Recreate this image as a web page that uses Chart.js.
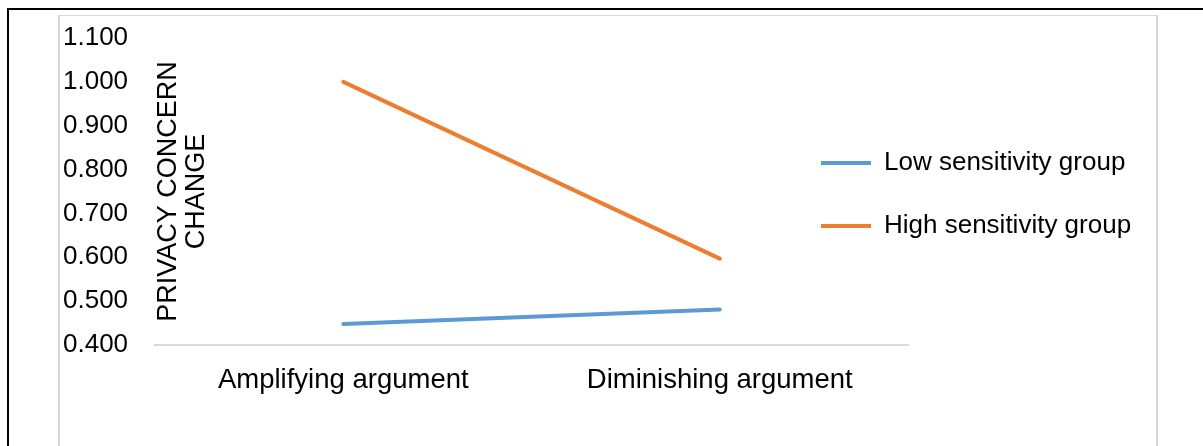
<!DOCTYPE html>
<html>
<head>
<meta charset="utf-8">
<script src="https://cdn.jsdelivr.net/npm/chart.js@4/dist/chart.umd.min.js"></script>
<style>
  html, body { margin: 0; padding: 0; background: #fff; }
  #page { position: relative; width: 1203px; height: 446px; overflow: hidden; }
  .rule { position: absolute; }
  #ruleTop { left: 7px; top: 8px; width: 1196px; height: 2px; background: #000; }
  #ruleLeft { left: 7px; top: 8px; width: 2px; height: 438px; background: #000; }
  #frame { left: 58px; top: 15px; width: 1100px; height: 440px;
           border: 2px solid #d9d9d9; border-top-width: 1.5px; box-sizing: border-box; }
  #wrap { position: absolute; left: 0; top: 0; width: 1203px; height: 446px; }
</style>
</head>
<body>
<div id="page">
  <div class="rule" id="ruleTop"></div>
  <div class="rule" id="ruleLeft"></div>
  <div class="rule" id="frame"></div>
  <div id="wrap"><canvas id="chart"></canvas></div>
</div>
<script>
// Argument type on the x axis
const categories = ['Amplifying argument', 'Diminishing argument'];

// Mean change in privacy concern per sensitivity group
const lowSensitivity = [0.448, 0.481];
const highSensitivity = [1.000, 0.597];

const seriesNames = ['Low sensitivity group', 'High sensitivity group'];
const axisTitle = ['PRIVACY CONCERN', 'CHANGE'];

// Value axis range and step
const yMin = 0.4;
const yMax = 1.1;
const yStep = 0.1;

const FONT = "'Liberation Sans', Arial, sans-serif";
Chart.defaults.font.family = FONT;
Chart.defaults.color = '#000';

// Places the legend so it sits just right of the plotted lines,
// and widens its clip box so the labels are not cut off
const legendPlacement = {
  id: 'legendPlacement',
  afterLayout(chart) {
    const lg = chart.legend;
    if (!lg) return;
    lg.left = chart.chartArea.right - 124;
    lg.right = chart.width;
    lg.top = 113;
    lg.bottom = lg.top + 260;
  }
};

new Chart(document.getElementById('chart'), {
  type: 'line',
  data: {
    labels: categories,
    datasets: [
      {
        label: seriesNames[0],
        data: lowSensitivity,
        borderColor: '#5B9BD5',
        backgroundColor: '#5B9BD5',
        borderWidth: 4,
        borderCapStyle: 'round',
        pointRadius: 0,
        tension: 0,
        yAxisID: 'y'
      },
      {
        label: seriesNames[1],
        data: highSensitivity,
        borderColor: '#ED7D31',
        backgroundColor: '#ED7D31',
        borderWidth: 4,
        borderCapStyle: 'round',
        pointRadius: 0,
        tension: 0,
        yAxisID: 'y'
      }
    ]
  },
  options: {
    responsive: true,
    maintainAspectRatio: false,
    animation: false,
    layout: { padding: { left: 63, top: 38, right: 195, bottom: 30 } },
    plugins: {
      tooltip: { enabled: false },
      legend: {
        position: 'right',
        align: 'start',
        maxWidth: 100,
        labels: {
          usePointStyle: true,
          pointStyle: 'line',
          pointStyleWidth: 50,
          padding: 37,
          color: '#000',
          font: { size: 26 }
        }
      }
    },
    scales: {
      x: {
        type: 'category',
        offset: true,
        grid: { display: false, drawTicks: false },
        border: { display: true, color: '#d9d9d9', width: 2 },
        ticks: { padding: 19, minRotation: 0, maxRotation: 0, color: '#000', font: { size: 27.5 } },
        afterFit: (scale) => { scale.paddingLeft = 0; scale.paddingRight = 0; }
      },
      y: {
        type: 'linear',
        position: 'left',
        weight: 1,
        min: yMin,
        max: yMax,
        grid: { display: false, drawTicks: false },
        border: { display: false },
        ticks: {
          stepSize: yStep,
          crossAlign: 'far',
          padding: 13.5,
          color: '#000',
          font: { size: 26 },
          callback: (v) => Number(v).toFixed(3)
        }
      },
      yTitle: {
        type: 'linear',
        position: 'left',
        weight: 0,
        min: 0,
        max: 1,
        grid: { display: false, drawTicks: false },
        border: { display: false },
        ticks: { display: false },
        title: {
          display: true,
          text: axisTitle,
          color: '#000',
          font: { size: 27, lineHeight: 1.055 },
          padding: { top: -1, bottom: 0 }
        },
        afterFit: (scale) => { scale.width = 0; }
      }
    }
  },
  plugins: [legendPlacement]
});
</script>
</body>
</html>
